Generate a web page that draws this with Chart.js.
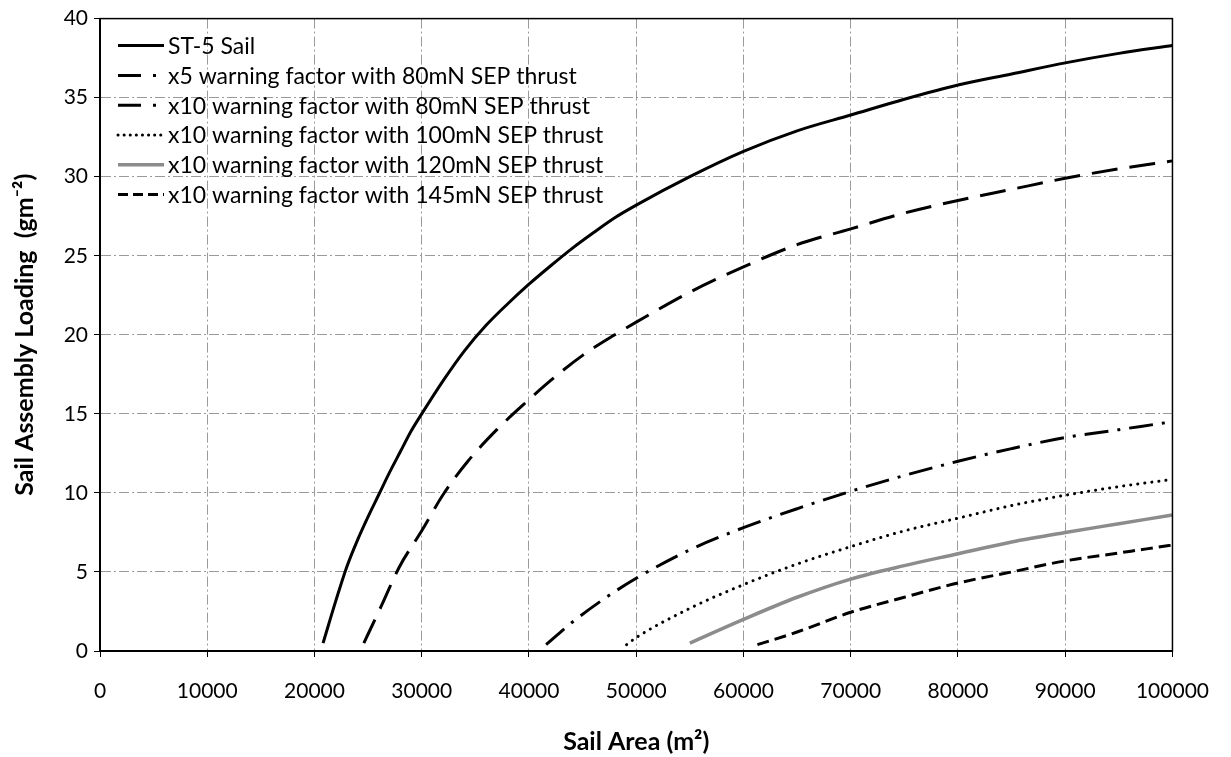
<!DOCTYPE html>
<html>
<head>
<meta charset="utf-8">
<script src="https://cdn.jsdelivr.net/npm/chart.js@4/dist/chart.umd.min.js"></script>
<style>
  html, body { margin: 0; padding: 0; background: #fff; }
  #wrap { width: 1231px; height: 757px; }
</style>
</head>
<body>
<div id="wrap"><canvas id="chartSail"></canvas></div>
<script>
// Datos: [area de vela (m2), carga (g/m2)]
const seriesNames = [
  'ST-5 Sail',
  'x5 warning factor with 80mN SEP thrust',
  'x10 warning factor with 80mN SEP thrust',
  'x10 warning factor with 100mN SEP thrust',
  'x10 warning factor with 120mN SEP thrust',
  'x10 warning factor with 145mN SEP thrust'
];

const st5Sail = [
  [20800, 0.5], [22000, 3.2], [23000, 5.3], [24000, 7.0], [25000, 8.5], [26000, 9.9],
  [27000, 11.3], [28000, 12.6], [29000, 13.9], [30000, 15], [32000, 17.1], [34000, 19],
  [36000, 20.6], [38000, 21.95], [40000, 23.2], [42000, 24.35], [44000, 25.45], [46000, 26.45],
  [48000, 27.4], [50000, 28.2], [55000, 30], [60000, 31.6], [65000, 32.9], [70000, 33.9],
  [75000, 34.9], [80000, 35.8], [85000, 36.5], [90000, 37.2], [95000, 37.8], [100000, 38.3]
];
const x5At80 = [
  [24600, 0.5], [26200, 2.8], [27900, 5.3], [30000, 7.6], [32000, 9.9], [34300, 12],
  [37000, 14], [40000, 15.9], [42000, 17.1], [45000, 18.7], [48000, 20], [50000, 20.8],
  [55000, 22.7], [60000, 24.3], [65000, 25.7], [70000, 26.7], [75000, 27.7], [80000, 28.5],
  [85000, 29.2], [90000, 29.9], [95000, 30.5], [100000, 31]
];
const x10At80 = [
  [41600, 0.4], [44000, 1.8], [47000, 3.3], [50000, 4.6], [55000, 6.4], [60000, 7.8],
  [65000, 9.0], [70000, 10.1], [75000, 11.1], [80000, 12.0], [85000, 12.8], [90000, 13.5],
  [95000, 14.0], [100000, 14.5]
];
const x10At100 = [
  [49100, 0.4], [50000, 0.85], [55000, 2.7], [60000, 4.2], [65000, 5.5], [70000, 6.6],
  [75000, 7.6], [80000, 8.4], [85000, 9.2], [90000, 9.85], [95000, 10.4], [100000, 10.85]
];
const x10At120 = [
  [55000, 0.5], [60000, 2.0], [65000, 3.4], [70000, 4.55], [75000, 5.4],
  [80000, 6.15], [85000, 6.9], [90000, 7.5], [95000, 8.05], [100000, 8.6]
];
const x10At145 = [
  [61300, 0.4], [65000, 1.2], [70000, 2.45], [75000, 3.4], [80000, 4.3], [85000, 5.0],
  [90000, 5.7], [95000, 6.2], [100000, 6.7]
];

const xTitle = 'Sail Area (m\u00B2)';
const yTitle = 'Sail Assembly Loading  (gm\u207B\u00B2)';

const toPoints = arr => arr.map(p => ({ x: p[0], y: p[1] }));
const fontFam = 'Lato, "Open Sans", sans-serif';

// Leyenda dentro del area del grafico
const insideLegend = {
  id: 'insideLegend',
  afterDatasetsDraw(chart) {
    const { ctx, chartArea } = chart;
    ctx.save();
    ctx.font = '23px ' + fontFam;
    ctx.textBaseline = 'middle';
    ctx.fillStyle = '#000';
    chart.data.datasets.forEach((ds, i) => {
      const y = chartArea.top + 27 + i * 29.8;
      const x0 = chartArea.left + 18;
      ctx.beginPath();
      ctx.lineWidth = ds.borderWidth;
      ctx.strokeStyle = ds.borderColor;
      ctx.lineCap = ds.borderCapStyle || 'butt';
      ctx.setLineDash(ds.legendDash);
      ctx.moveTo(x0, y);
      ctx.lineTo(x0 + 46, y);
      ctx.stroke();
      ctx.setLineDash([]);
      ctx.fillText(ds.label, x0 + 50, y + 1);
    });
    ctx.restore();
  }
};

// Marco completo del area de trazado
const plotFrame = {
  id: 'plotFrame',
  afterDraw(chart) {
    const { ctx, chartArea } = chart;
    ctx.save();
    ctx.strokeStyle = '#000';
    ctx.lineWidth = 1.5;
    ctx.strokeRect(chartArea.left, chartArea.top, chartArea.right - chartArea.left, chartArea.bottom - chartArea.top);
    ctx.restore();
  }
};

const ctxSail = document.getElementById('chartSail');
const sailChart = new Chart(ctxSail, {
  type: 'line',
  data: {
    datasets: [
      { label: seriesNames[0], data: toPoints(st5Sail), borderColor: '#000', borderWidth: 3, borderDash: [], legendDash: [] },
      { label: seriesNames[1], data: toPoints(x5At80), borderColor: '#000', borderWidth: 3, borderDash: [26, 12], legendDash: [23, 12, 3, 20] },
      { label: seriesNames[2], data: toPoints(x10At80), borderColor: '#000', borderWidth: 3, borderDash: [24, 9, 3, 9], legendDash: [23, 12, 3, 20] },
      { label: seriesNames[3], data: toPoints(x10At100), borderColor: '#000', borderWidth: 3, borderDash: [0.1, 7], borderCapStyle: 'round', legendDash: [0.1, 6] },
      { label: seriesNames[4], data: toPoints(x10At120), borderColor: '#8c8c8c', borderWidth: 3.5, borderDash: [], legendDash: [] },
      { label: seriesNames[5], data: toPoints(x10At145), borderColor: '#000', borderWidth: 3, borderDash: [12, 6], legendDash: [10, 5] }
    ]
  },
  options: {
    responsive: true,
    maintainAspectRatio: false,
    animation: false,
    parsing: false,
    elements: {
      point: { radius: 0 },
      line: { cubicInterpolationMode: 'monotone', fill: false }
    },
    layout: { padding: { top: 18, right: 55, left: 0, bottom: 0 } },
    plugins: {
      legend: { display: false },
      tooltip: { enabled: false }
    },
    scales: {
      x: {
        type: 'linear',
        min: 0,
        max: 100000,
        ticks: {
          stepSize: 10000,
          padding: 22,
          color: '#000',
          font: { family: fontFam, size: 21 },
          callback: v => String(v)
        },
        grid: { color: '#9a9a9a', lineWidth: 1, tickColor: '#000', tickLength: 6 },
        border: { color: '#000', width: 2, dash: [10, 3, 2, 3] },
        title: {
          display: true,
          text: xTitle,
          color: '#000',
          font: { family: fontFam, size: 25, weight: 'bold' },
          padding: { top: 0, bottom: 0 }
        },
        afterFit: scale => { scale.height = 106; }
      },
      y: {
        type: 'linear',
        min: 0,
        max: 40,
        ticks: {
          stepSize: 5,
          padding: 6,
          color: '#000',
          font: { family: fontFam, size: 21 }
        },
        grid: { color: '#9a9a9a', lineWidth: 1, tickColor: '#000', tickLength: 6 },
        border: { color: '#000', width: 2, dash: [10, 3, 2, 3] },
        title: {
          display: true,
          text: yTitle,
          color: '#000',
          font: { family: fontFam, size: 25, weight: 'bold' },
          padding: { top: 10, bottom: 0 }
        },
        afterFit: scale => { scale.width = 100; }
      }
    }
  },
  plugins: [insideLegend, plotFrame]
});
</script>
</body>
</html>
